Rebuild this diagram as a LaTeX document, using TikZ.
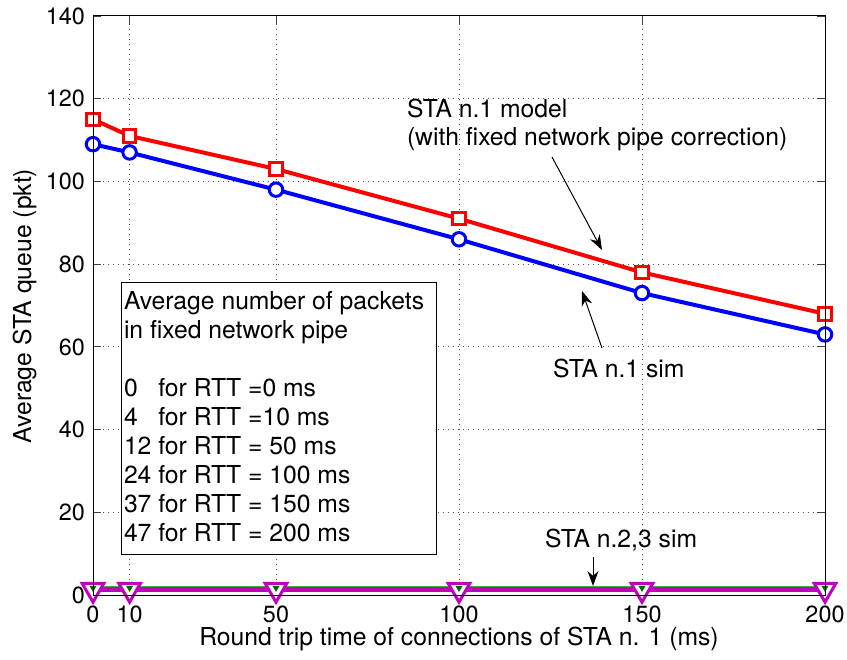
\documentclass[tikz,border=0pt]{standalone}
\usepackage{fontspec}
\setmainfont{TeX Gyre Heros}
\usetikzlibrary{arrows.meta,shapes.geometric}
\definecolor{magcol}{rgb}{0.75,0,0.75}
\definecolor{grncol}{rgb}{0.25,0.7,0.25}
\definecolor{dkgrn}{rgb}{0,0.4,0}
\begin{document}
\begin{tikzpicture}[x=1bp,y=-1bp,
  every node/.style={inner sep=0pt, outer sep=0pt},
  lbl/.style={font=\fontsize{24.8}{29}\selectfont},
  ticklbl/.style={font=\fontsize{23.5}{27}\selectfont},
  legtxt/.style={font=\fontsize{24.8}{29}\selectfont, anchor=base west},
  gridln/.style={line width=0.7bp, black!70, dash pattern=on 1bp off 4bp},
  tickln/.style={line width=0.8bp, black!75},
  redln/.style={red, line width=4bp},
  blueln/.style={blue, line width=4bp},
  magln/.style={magcol, line width=4.5bp},
  grnln/.style={grncol, line width=1.3bp},
  sqmark/.style={rectangle, draw=red, line width=3bp, fill=white, minimum size=12.5bp},
  cimark/.style={circle, draw=blue, line width=3bp, fill=white, minimum size=13.5bp},
  trmark/.style={regular polygon, regular polygon sides=3, shape border rotate=180, draw=magcol, line width=3bp, fill=white, minimum size=25bp},
  gmark/.style={regular polygon, regular polygon sides=3, shape border rotate=180, fill=dkgrn, minimum size=8bp},
  annarrow/.style={-{Stealth[length=15bp,width=11bp]}, line width=1bp},
]
\useasboundingbox (0,0) rectangle (847,660);
\fill[white] (0,0) rectangle (847,660);

\begin{scope}[shift={(93,595)}, x=3.66bp, y=4.136bp]
  % grid
  \foreach \gx in {10,50,100,150} \draw[gridln] (\gx,0) -- (\gx,140);
  \foreach \gy in {20,40,...,120} \draw[gridln] (0,\gy) -- (200,\gy);
  % ticks
  \foreach \gx in {0,10,50,100,150,200} {
    \draw[tickln] (\gx,0) -- ++(0,8bp);
    \draw[tickln] (\gx,140) -- ++(0,-8bp);
    \node[ticklbl, anchor=base, yshift=-27bp] (xt\gx) at (\gx,0) {\gx};
  }
  \foreach \gy in {0,20,...,140} {
    \draw[tickln] (0,\gy) -- ++(8bp,0);
    \draw[tickln] (200,\gy) -- ++(-8bp,0);
    \node[ticklbl, anchor=base east, xshift=-8bp, yshift=-8.3bp] (yt\gy) at (0,\gy) {\gy};
  }
  % data points
  \foreach \x/\y [count=\i] in {0/115,10/111,50/103,100/91,150/78,200/68}
    \coordinate (r\i) at (\x,\y);
  \foreach \x/\y [count=\i] in {0/109,10/107,50/98,100/86,150/73,200/63}
    \coordinate (b\i) at (\x,\y);
  \foreach \x [count=\i] in {0,10,50,100,150,200} {
    \coordinate (m\i) at (\x,1.3);
    \coordinate (g\i) at (\x,2.0);
    \coordinate (gk\i) at (\x,1.7);
  }
  % lines
  \draw[magln] (m1) -- (m2) -- (m3) -- (m4) -- (m5) -- (m6);
  \draw[grnln] (g1) -- (g2) -- (g3) -- (g4) -- (g5) -- (g6);
  \draw[blueln, line join=round] (b1) -- (b2) -- (b3) -- (b4) -- (b5) -- (b6);
  \draw[redln, line join=round] (r1) -- (r2) -- (r3) -- (r4) -- (r5) -- (r6);
  % markers
  \foreach \i in {1,...,6} {
    \node[trmark] (mt\i) at (m\i) {};
    \node[gmark] (gt\i) at (gk\i) {};
    \node[cimark] (bc\i) at (b\i) {};
    \node[sqmark] (rs\i) at (r\i) {};
  }
  % frame
  \draw[line width=1bp] (0,0) rectangle (200,140);
\end{scope}

% axis labels
\node[lbl, anchor=base] (xlab) at (459,645) {Round trip time of connections of STA n. 1 (ms)};
\node[lbl, rotate=90, anchor=base] (ylab) at (31,306) {Average STA queue (pkt)};

% legend box
\node[draw, line width=1bp, fill=white, minimum width=314bp, minimum height=272bp] (legbox) at (279,418) {};
\node[legtxt] (l1) at (124,309) {Average number of packets};
\node[legtxt] (l2) at (124,338) {in fixed network pipe};
\node[legtxt] (l3) at (124,396) {\rlap{0}\hphantom{12} for RTT =0 ms};
\node[legtxt] (l4) at (124,425) {\rlap{4}\hphantom{12} for RTT =10 ms};
\node[legtxt] (l5) at (124,454) {12 for RTT = 50 ms};
\node[legtxt] (l6) at (124,483) {24 for RTT = 100 ms};
\node[legtxt] (l7) at (124,512) {37 for RTT = 150 ms};
\node[legtxt] (l8) at (124,541) {47 for RTT = 200 ms};

% annotations
\node[lbl, anchor=base west] (ann1a) at (407,118) {STA n.1 model};
\node[lbl, anchor=base west] (ann1b) at (407,146) {(with fixed network pipe correction)};
\node[lbl, anchor=base west] (ann2) at (553,377) {STA n.1 sim};
\node[lbl, anchor=base west] (ann3) at (545,547) {STA n.2,3 sim};

\coordinate (a1s) at (552,157); \coordinate (a1e) at (602,250);
\coordinate (a2s) at (602,348); \coordinate (a2e) at (582,291);
\coordinate (a3s) at (593,557); \coordinate (a3e) at (593,586);
\draw[annarrow] (a1s) -- (a1e);
\draw[annarrow] (a2s) -- (a2e);
\draw[annarrow] (a3s) -- (a3e);
\end{tikzpicture}
\end{document}
